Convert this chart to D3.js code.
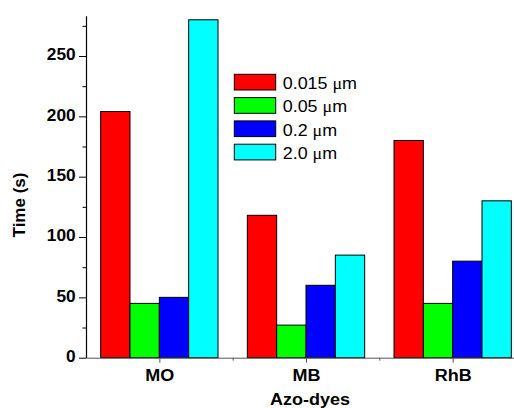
<!DOCTYPE html>
<html>
<head>
<meta charset="utf-8">
<script src="https://cdn.jsdelivr.net/npm/d3@7"></script>
<style>
  body { margin: 0; background: #fff; }
  svg { display: block; font-family: "Liberation Sans", Arial, sans-serif; }
</style>
</head>
<body>
<svg id="chart"></svg>
<script>
// data
const dyes = ["MO", "MB", "RhB"];
const sizes = ["0.015", "0.05", "0.2", "2.0"];
const colors = ["#ff0000", "#00ff00", "#0000ff", "#00ffff"];
const time015 = [204, 118, 180];
const time005 = [45, 27, 45];
const time02 = [50, 60, 80];
const time20 = [280, 85, 130];
const yMajor = [0, 50, 100, 150, 200, 250];
const yMinor = [25, 75, 125, 175, 225, 275];

const series = [time015, time005, time02, time20];

const width = 514, height = 408;
const svg = d3.select("#chart").attr("width", width).attr("height", height);

// category positions: 1,2,3 ; axis runs from 0.5 on
const x = d3.scaleLinear().domain([0.5, 3.5]).range([86, 526]);
const y = d3.scaleLinear().domain([0, 283.4]).range([357.7, 15.7]);
const barW = 0.2;

// bars
series.forEach((vals, i) => {
    svg.append("g")
        .selectAll("rect")
        .data(vals)
        .join("rect")
        .attr("x", (d, j) => x(j + 1 - 0.4 + i * barW))
        .attr("width", x(1 + barW) - x(1))
        .attr("y", d => y(d))
        .attr("height", d => y(0) - y(d))
        .attr("fill", colors[i])
        .attr("stroke", "#000")
        .attr("stroke-width", 1);
});

// x axis
const xAxis = svg.append("g")
    .attr("transform", `translate(0,${y(0)})`)
    .call(d3.axisBottom(x)
        .tickValues([1, 2, 3])
        .tickSize(5)
        .tickSizeOuter(0)
        .tickFormat(d => dyes[d - 1]));
xAxis.select(".domain").attr("stroke", "#555");
xAxis.selectAll(".tick line").attr("stroke", "#555");
xAxis.selectAll("text")
    .attr("y", 23.7)
    .attr("dy", 0)
    .attr("fill", "#000")
    .style("font-size", "17px")
    .style("font-weight", "bold")
    .attr("transform", "scale(1.06,1)");

svg.append("g")
    .attr("transform", `translate(0,${y(0)})`)
    .call(d3.axisBottom(x).tickValues([1.5, 2.5]).tickSize(3).tickFormat(""))
    .call(g => g.select(".domain").remove())
    .selectAll("line").attr("stroke", "#555");

// y axis
const yAxis = svg.append("g")
    .attr("transform", `translate(${x(0.5)},0)`)
    .call(d3.axisLeft(y)
        .tickValues(yMajor)
        .tickSize(7)
        .tickSizeOuter(0));
yAxis.select(".domain").attr("stroke-width", 1.2);
yAxis.selectAll("text")
    .attr("x", -9.6)
    .attr("dy", "3.7px")
    .attr("fill", "#000")
    .style("font-size", "16px")
    .style("font-weight", "bold")
    .attr("transform", "scale(1.08,1)");

svg.append("g")
    .attr("transform", `translate(${x(0.5)},0)`)
    .call(d3.axisLeft(y).tickValues(yMinor).tickSize(3.5).tickFormat(""))
    .call(g => g.select(".domain").remove());

// axis titles
svg.append("text")
    .attr("transform", "translate(25,205) rotate(-90)")
    .attr("text-anchor", "middle")
    .style("font-size", "17px")
    .style("font-weight", "bold")
    .text("Time (s)");

svg.append("text")
    .attr("transform", "translate(310,405) scale(1.06,1)")
    .attr("text-anchor", "middle")
    .style("font-size", "17px")
    .style("font-weight", "bold")
    .text("Azo-dyes");

// legend
const legend = svg.append("g");
sizes.forEach((s, i) => {
    const yy = 74.3 + i * 23.3;
    legend.append("rect")
        .attr("x", 234.3)
        .attr("y", yy)
        .attr("width", 41.4)
        .attr("height", 15.7)
        .attr("fill", colors[i])
        .attr("stroke", "#000")
        .attr("stroke-width", 1);
    const t = legend.append("text")
        .attr("transform", `translate(282.7,${yy + 14.7}) scale(1.12,1)`)
        .style("font-size", "16px");
    t.append("tspan").text(s + " ");
    t.append("tspan").style("font-family", "'Liberation Serif', serif").text("\u03bc");
    t.append("tspan").text("m");
});
</script>
</body>
</html>
